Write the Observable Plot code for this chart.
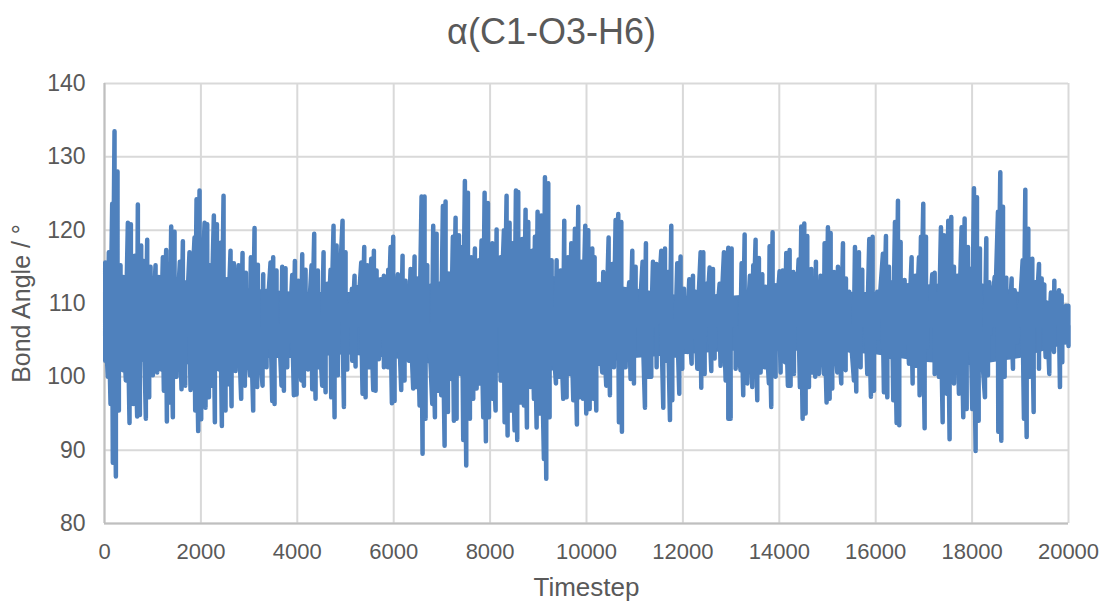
<!DOCTYPE html>
<html><head><meta charset="utf-8">
<script src="https://cdn.jsdelivr.net/npm/d3@7"></script>
<script src="https://cdn.jsdelivr.net/npm/@observablehq/plot@0.6"></script>
<style>
html,body{margin:0;padding:0;background:#fff;overflow:hidden}
#t{height:62px;text-align:center;font:36px/64px "Liberation Sans",Arial,sans-serif;color:#595959}
svg{display:block}
</style></head><body>
<div id="t">α(C1-O3-H6)</div>
<div id="c"></div>
<script>
const title = "α(C1-O3-H6)";
const xTicks = d3.range(0, 20001, 2000);
const yTicks = [80,90,100,110,120,130,140];
const meanAngle = 107;
const bandT = [0,1000,2000,3000,4000,5000,6000,7000,8000,9000,10000,11000,12000,13000,14000,15000,16000,17000,18000,19000,20000];
const bandTop = [112,112.5,112.5,112,111.5,111.5,111.5,113,114,114,113,112,111,111,111.5,111.5,111.5,112.5,113,111.5,109.5];
const bandBottom = [102,102,101.5,102.5,102.5,103,102.5,101.5,100.5,100.5,101.5,102.5,103,103.5,103.5,103.5,103,102,101.5,102.5,104.5];
const upperT = [15,90,160,208,270,332,388,485,547,630,692,761,816,886,955,1059,1128,1211,1280,1384,1453,1564,1626,1695,1764,1868,1910,1972,2076,2131,2186,2269,2332,2408,2470,2539,2615,2684,2781,2864,2933,3037,3113,3182,3293,3355,3445,3500,3569,3687,3756,3825,3895,3950,4019,4102,4171,4227,4296,4351,4427,4545,4621,4690,4752,4815,4939,5001,5091,5133,5188,5243,5327,5389,5451,5534,5589,5645,5728,5797,5887,5935,5990,6087,6184,6247,6350,6433,6502,6578,6640,6696,6820,6890,6959,7021,7076,7145,7228,7284,7353,7422,7477,7540,7609,7685,7768,7823,7886,7955,8045,8135,8218,8287,8342,8404,8460,8536,8584,8667,8736,8792,8875,8930,8985,9061,9138,9207,9276,9380,9463,9539,9615,9684,9760,9829,9898,9974,10037,10120,10168,10258,10348,10459,10535,10604,10659,10722,10812,10887,10950,11019,11088,11164,11233,11296,11379,11448,11552,11628,11690,11759,11883,11952,12022,12132,12209,12264,12368,12423,12485,12554,12624,12693,12762,12852,12942,13011,13094,13218,13281,13391,13460,13508,13577,13647,13716,13799,13861,13930,14006,14069,14145,14214,14290,14338,14401,14456,14518,14580,14663,14760,14857,14940,15009,15065,15134,15217,15321,15383,15452,15570,15652,15721,15798,15867,15936,16033,16150,16213,16275,16344,16400,16462,16517,16600,16669,16745,16821,16898,16939,16987,17043,17105,17174,17223,17292,17354,17416,17506,17568,17624,17693,17783,17845,17914,17970,18039,18101,18163,18295,18357,18468,18537,18585,18641,18710,18820,18883,18973,19049,19104,19166,19249,19318,19388,19443,19498,19561,19636,19706,19803,19858,19948,19997];
const upperV = [115.6,117,123.6,133.5,128,115.2,113.6,121,120.8,116.5,123.5,117.9,115.8,118.7,115,115.2,113.6,116.3,117.3,120.5,119.8,115.7,118.5,112.9,117,119,124.2,125.4,121,120.8,115.2,122,120.8,118.3,124.7,113.3,117.2,115.5,115.2,116.9,114.2,116.3,120.3,115.3,114,111.7,115.6,116.3,114.5,115,114.8,110.7,113.9,115.8,113.1,116.7,114.6,110,115.2,119.5,114.5,117,112.7,114.6,120.6,117.9,121.3,117,109.9,112,113.8,112.2,115.6,117.7,115.2,116.1,117.2,114.5,113.3,113.8,114.6,117.7,119.1,114,116.5,113.1,114.7,116.4,113.4,124.6,124.6,115.2,120.6,119.5,111.8,123.3,123.9,114.1,119.1,121.7,119.3,117.7,126.7,125.1,116.3,117.5,115.9,118.6,125.1,123.7,118.2,120.1,116.3,120,124.7,121,118.2,125.4,125.2,118.8,122.8,121.1,117.2,119.1,122.5,122,127.2,126.4,115.9,115.9,114.5,121.3,116.3,118.2,120.2,123.2,115.7,120.6,120,117.5,116.3,112.7,114.3,119,115.4,121.4,122.2,121.1,111.6,112.9,117.2,115,110,115.7,118.2,111.3,115.7,115.4,117.2,117.5,114.3,120.6,115.5,116.4,112,113.3,113.8,111.6,117,117,112.7,114.9,114.7,111,112.7,117,117.6,117.5,110.4,115.5,119.4,113.8,115.2,118.7,116.2,114,112.3,117.8,119.7,112.5,114.4,114.5,116.9,117.3,114.3,114,116,120.5,120.9,119.2,114.7,115.7,113.8,118.2,120.4,119.6,114.3,115,118.2,113.4,111.6,117.7,117,114.6,111.1,118.8,119.1,111.6,116.8,119.2,115,112.9,121.1,124,118.4,113.2,112.5,116.3,113.8,116.3,119.1,123.6,119.1,110,114,114.2,111.3,120.4,119.3,121.3,121.8,115,113.8,120.4,121.6,117.7,114.7,125.7,124.5,117.5,118.9,112.9,113.6,122.5,127.9,123.2,113.5,113.4,111.8,109,115.9,125.5,120.2,116.1,112.9,115.4,113.4,112.6,110,111.5,113.1,111.8,111.1,109.7,109.7];
const lowerT = [15,70,125,173,236,298,381,443,519,595,678,734,782,858,927,1003,1093,1176,1232,1294,1356,1418,1495,1598,1674,1785,1882,1944,2006,2096,2166,2214,2290,2373,2435,2511,2560,2636,2719,2836,2912,3016,3085,3168,3279,3362,3480,3528,3618,3673,3722,3791,3846,3929,3985,4082,4137,4220,4310,4379,4448,4517,4587,4642,4704,4773,4842,4967,5036,5140,5209,5354,5417,5486,5576,5624,5693,5797,5880,5963,6018,6108,6156,6225,6315,6405,6468,6537,6599,6661,6730,6800,6855,6917,6986,7056,7125,7194,7249,7305,7388,7443,7505,7581,7650,7720,7782,7858,7913,7976,8045,8114,8218,8301,8363,8425,8508,8563,8633,8702,8764,8840,8910,8965,9034,9117,9165,9234,9290,9366,9442,9518,9587,9656,9726,9801,9857,9926,9995,10065,10141,10203,10258,10327,10410,10486,10569,10673,10735,10812,10915,10984,11088,11213,11275,11344,11455,11593,11662,11732,11780,11849,11925,11987,12091,12181,12299,12381,12451,12589,12658,12782,12887,12942,12990,13094,13197,13252,13335,13439,13543,13612,13695,13785,13833,13923,14027,14117,14179,14234,14304,14428,14484,14546,14615,14684,14746,14822,14926,14981,15044,15099,15203,15286,15376,15466,15549,15597,15687,15825,15901,15964,16047,16171,16241,16310,16365,16434,16489,16586,16690,16766,16842,16911,17015,17070,17223,17312,17389,17471,17533,17624,17727,17817,17887,18004,18073,18136,18267,18329,18385,18544,18606,18675,18772,18848,18938,19076,19132,19201,19277,19388,19526,19602,19699,19823,19871,19941,20000];
const lowerV = [102.2,100,96.3,88.3,86.4,95.4,100.9,99.5,93.7,96.3,94.6,94.8,102.4,94.3,97.2,100.2,100.6,101,98.1,93.9,96.5,94.5,100,98.3,98.8,98.2,95.4,92.6,94.2,95.8,97.2,98.8,93.8,101,93.3,95.4,99,96,100.8,97,98.8,100.2,95.4,98.6,98.8,101.3,96.7,96.3,103.5,98.8,98.1,101.3,104.9,97.5,97.6,99.5,98.8,101,98.3,97,101.3,98.8,97.9,103.5,97.2,94.5,100.2,95.9,101,102.2,101.4,97.7,97.2,101.3,98.2,98.1,102.4,101.3,101.3,96.4,96.7,103.5,98.2,99.5,102.2,98.4,98.6,96.1,89.5,94.3,104.3,96.3,94.5,98.1,97.5,90.6,95.2,99.7,94,94.3,100.4,91.4,87.9,94.3,97,98.4,99.1,94.5,91.2,94.5,97,95.4,99.5,93.8,92,95.4,92.7,91.4,96.5,96.1,93.1,98.6,97,93.1,95,88.8,86.1,94.5,101.8,99.1,100,97,97.2,100.4,96.8,93.5,97.2,97,95,95.6,97,95.4,101.8,100.6,98.8,97.5,101.3,93.8,92.5,101.3,99.7,99.1,103.1,95.8,100,100,101.3,95.8,102.2,94.1,96.8,102.9,97.7,101.1,103.4,101.8,101.1,98.5,100.4,100.8,102.5,101.5,99.5,94.3,94.3,101.1,100.9,97.5,99.1,98.6,96.8,100.6,101.3,99.1,95.9,100,100.6,102,98.8,98.8,100.4,98.6,94.3,95,98.6,100.6,100,100.4,100.4,96.5,97,98.4,100.6,99.1,100.9,103.6,99.5,98,101.3,100.4,97.3,98.1,105.2,97.9,97.2,102.7,96.8,93.7,93.4,103.4,101.8,99.1,101.5,97.5,93,104,100.4,100,93.8,97.7,91.5,99.1,97.7,94.5,95.6,95.6,89.9,94,97.2,100.2,105.9,92.5,91.3,100,102.7,101.1,104.7,94.3,91.8,100,95.2,101.1,102.7,100.4,103.4,98.6,102,104.7,104.2];

// One trace through every extreme, in time order,
// swinging back through the mean angle between them.
const rows = [
  ...upperT.map((t, i) => ({t, v: upperV[i]})),
  ...lowerT.map((t, i) => ({t, v: lowerV[i]}))
].sort((a, b) => a.t - b.t).flatMap(d => [d, {t: d.t, v: meanAngle}]);
const band = bandT.map((t, i) => ({t, top: bandTop[i], bottom: bandBottom[i]}));

const ink = "#595959", grid = "#d9d9d9", rule = "#bfbfbf", blue = "#4f81bd";
const chart = Plot.plot({
  width: 1103, height: 540,
  marginTop: 21, marginBottom: 79, marginLeft: 104, marginRight: 35,
  style: {fontFamily: '"Liberation Sans",Arial,sans-serif', fontSize: "23px", color: ink, background: "#fff"},
  x: {domain: [0, 20000], ticks: xTicks, tickFormat: d => String(d), tickSize: 0},
  y: {domain: [80, 140], ticks: yTicks, tickSize: 0},
  marks: [
    Plot.gridX(xTicks, {stroke: grid, strokeOpacity: 1, strokeWidth: 2}),
    Plot.gridY(yTicks, {stroke: grid, strokeOpacity: 1, strokeWidth: 2}),
    Plot.ruleX([0], {stroke: rule, strokeWidth: 2}),
    Plot.ruleY([80], {stroke: rule, strokeWidth: 2}),
    Plot.axisX({ticks: xTicks, tickFormat: d => String(d), tickSize: 0, tickPadding: 20, fontSize: 22, fill: ink, label: null}),
    Plot.axisY({ticks: yTicks, tickSize: 0, tickPadding: 19, fontSize: 23, fill: ink, label: null}),
    Plot.axisX({ticks: [], tickSize: 0, fontSize: 26, fill: ink,
      label: "Timestep", labelAnchor: "center", labelArrow: "none", labelOffset: 72}),
    Plot.axisY({ticks: [], tickSize: 0, fontSize: 25, fill: ink,
      label: "Bond Angle / °", labelAnchor: "center", labelArrow: "none", labelOffset: 92}),
    Plot.areaY(band, {x: "t", y1: "bottom", y2: "top", fill: blue}),
    Plot.line(rows, {x: "t", y: "v", stroke: blue, strokeWidth: 4.5, strokeLinecap: "round", strokeLinejoin: "round", curve: "linear"})
  ]
});
document.getElementById("c").appendChild(chart);
</script></body></html>
